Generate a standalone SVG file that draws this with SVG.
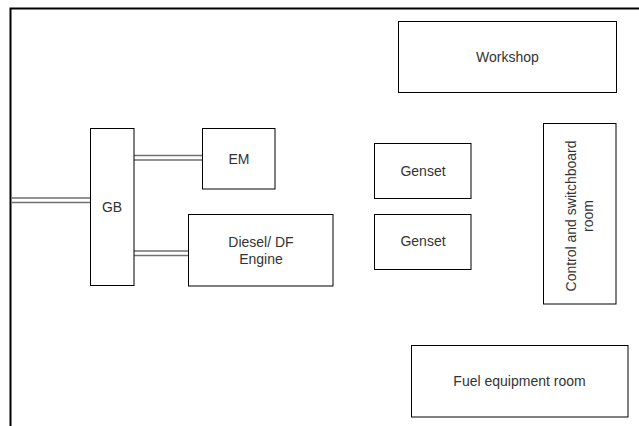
<svg xmlns="http://www.w3.org/2000/svg" width="639" height="426" viewBox="0 0 639 426">
<style>
.box{fill:#fff;stroke:#000;stroke-width:1}
.lbl{font-family:"Liberation Sans",Arial,sans-serif;font-size:14px;fill:#333;text-anchor:middle;dominant-baseline:central}
.shaft{stroke:#707070;stroke-width:1.5;fill:none}
.frame{stroke:#000;stroke-width:2;fill:none}
</style>
<rect width="639" height="426" fill="#fff"/>
<path class="frame" d="M10.5 426 V8.5 H639"/>
<g id="connectors">
<path class="shaft" d="M11 198 H90 M11 202.5 H90"/>
<path class="shaft" d="M134 155.5 H202 M134 160 H202"/>
<path class="shaft" d="M134 251 H188 M134 255.5 H188"/>
</g>
<g id="workshop"><rect class="box" x="398.5" y="21.5" width="218" height="71"/><text class="lbl" x="507.5" y="57">Workshop</text></g>
<g id="gb"><rect class="box" x="90.5" y="128.5" width="43.5" height="157"/><text class="lbl" x="112" y="207">GB</text></g>
<g id="em"><rect class="box" x="202.5" y="128.5" width="72.5" height="60.5"/><text class="lbl" x="239" y="159">EM</text></g>
<g id="engine"><rect class="box" x="188.5" y="214.5" width="144.5" height="71.5"/><text class="lbl" x="261" y="242">Diesel/ DF</text><text class="lbl" x="261" y="259">Engine</text></g>
<g id="genset1"><rect class="box" x="374.5" y="143.5" width="96.5" height="55"/><text class="lbl" x="423" y="171">Genset</text></g>
<g id="genset2"><rect class="box" x="374.5" y="214.5" width="96.5" height="55"/><text class="lbl" x="423" y="241">Genset</text></g>
<g id="control"><rect class="box" x="543.5" y="123.5" width="72.5" height="180.5"/><text class="lbl" transform="translate(579.5 216) rotate(-90)"><tspan x="0" y="-8.5">Control and switchboard</tspan><tspan x="0" y="8.5">room</tspan></text></g>
<g id="fuel"><rect class="box" x="411.5" y="345.5" width="216.5" height="71.5"/><text class="lbl" x="519.5" y="381">Fuel equipment room</text></g>
</svg>
